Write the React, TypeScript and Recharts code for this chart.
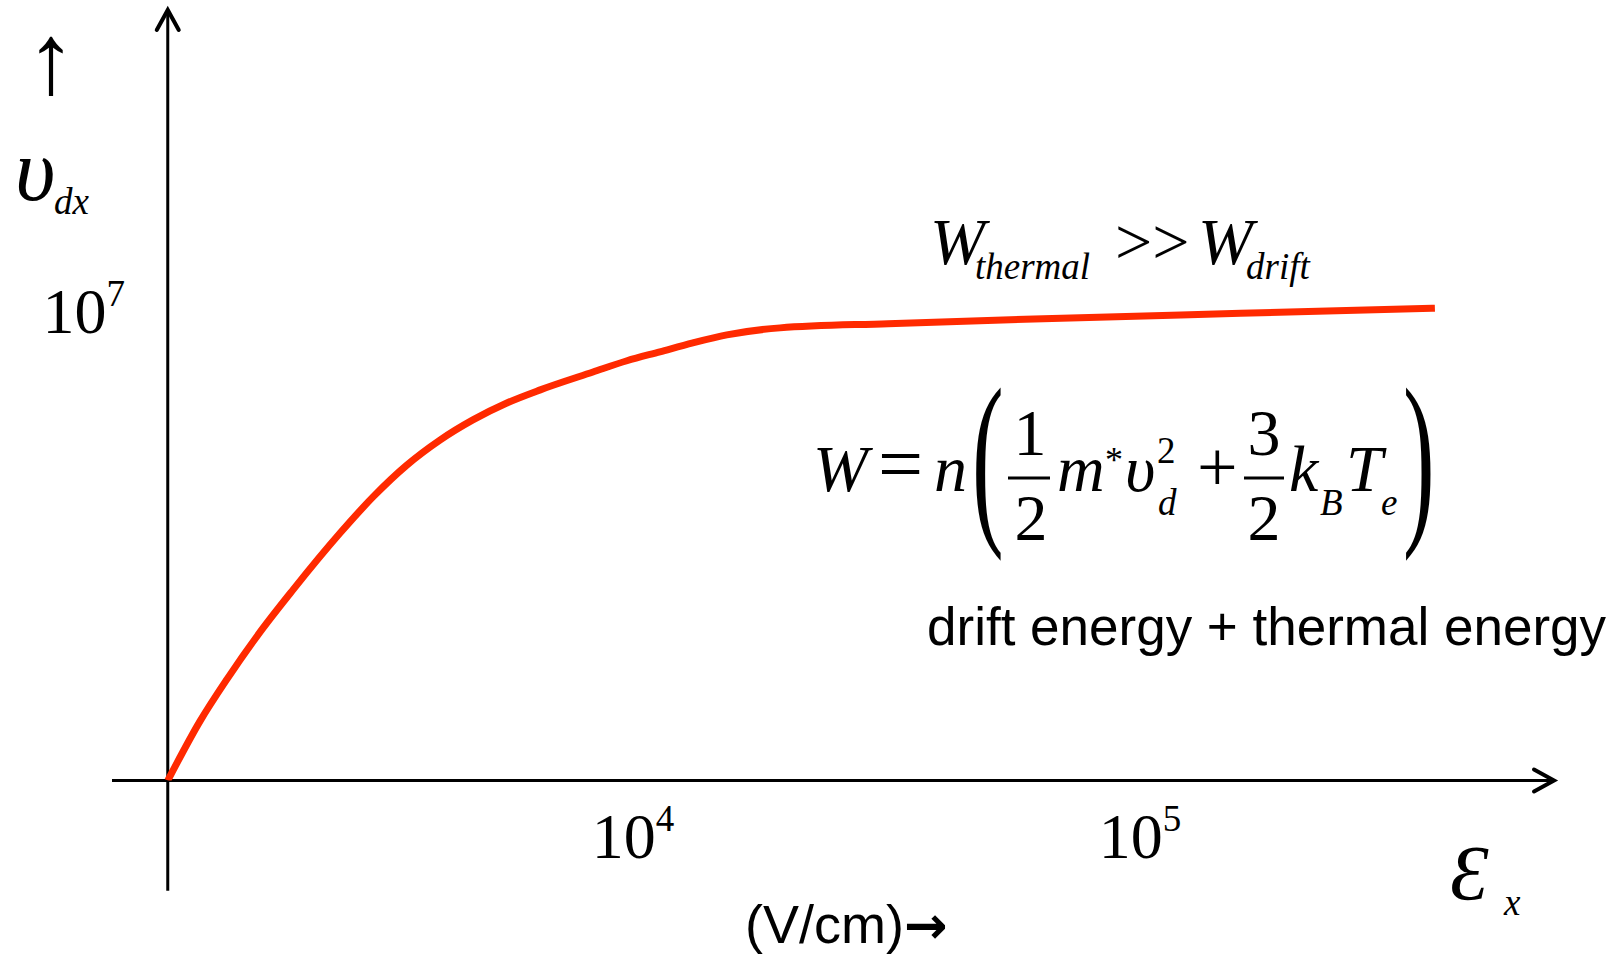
import { LineChart, Line, XAxis, YAxis, ReferenceLine } from "recharts";

// x = log10 of the field E (V/cm), v = drift velocity in units of 1e7 cm/s
const fieldLog = [3.082, 3.146, 3.199, 3.264, 3.329, 3.422, 3.487, 3.554, 3.619, 3.684, 3.751, 3.817, 3.921, 3.988, 4.053, 4.118, 4.185, 4.29, 4.503, 4.791, 5.199, 5.582];
const velocity = [0, 0.127, 0.216, 0.316, 0.406, 0.527, 0.604, 0.672, 0.725, 0.768, 0.804, 0.832, 0.87, 0.894, 0.913, 0.932, 0.949, 0.964, 0.973, 0.983, 0.995, 1.006];

const xTicks = [4, 5];
const yTicks = [1];
const xDomain: [number, number] = [2.972, 5.817];
const yDomain: [number, number] = [0, 1.641];
const originX = 3.082;
const yAxisBottom = -0.235;

const SERIF = "'Liberation Serif', 'Times New Roman', serif";
const SANS = "'Liberation Sans', Arial, sans-serif";
const RED = "#FF2A00";

const data = fieldLog.map((x, i) => ({ x, v: velocity[i] }));

// axis line with an open chevron at its second end
const ArrowAxis = (props: any) => {
  const { x1, y1, x2, y2 } = props;
  const dx = x2 - x1, dy = y2 - y1;
  const len = Math.hypot(dx, dy) || 1;
  const ux = dx / len, uy = dy / len;
  const back = 20, half = 11;
  const bx = x2 - ux * back, by = y2 - uy * back;
  const px = -uy * half, py = ux * half;
  return (
    <g>
      <line x1={x1} y1={y1} x2={x2 - ux * 2} y2={y2 - uy * 2} stroke="#000" strokeWidth={3} />
      <polyline
        points={`${bx + px},${by + py} ${x2},${y2} ${bx - px},${by - py}`}
        fill="none" stroke="#000" strokeWidth={4} strokeLinecap="round"
      />
    </g>
  );
};

const PowerTick = ({ x, y, exp, anchor, dx, dy }: any) => (
  <text x={x + dx} y={y + dy} textAnchor={anchor} fontFamily={SERIF} fontSize={64} fill="#000">
    10<tspan fontSize={37} dy={-27}>{exp}</tspan>
  </text>
);

const Annotations = () => (
  <g fontFamily={SERIF} fill="#000">
    <text x={51} y={93} fontSize={100} textAnchor="middle">↑</text>
    <text x={15} y={200} fontSize={88} fontStyle="italic">υ</text>
    <text x={54} y={214} fontSize={37} fontStyle="italic">dx</text>

    {/* W_thermal >> W_drift */}
    <text fontSize={66} fontStyle="italic">
      <tspan x={930} y={264}>W</tspan>
      <tspan x={975} y={279} fontSize={37}>thermal</tspan>
    </text>
    <text x={1115} y={264} fontSize={66}>&gt;&gt;</text>
    <text fontSize={66} fontStyle="italic">
      <tspan x={1198} y={264}>W</tspan>
      <tspan x={1246} y={279} fontSize={37}>drift</tspan>
    </text>

    {/* W = n ( 1/2 m* v_d^2 + 3/2 k_B T_e ) */}
    <text x={813} y={491} fontSize={66} fontStyle="italic">W</text>
    <text x={878} y={491} fontSize={80}>=</text>
    <text x={934} y={491} fontSize={66} fontStyle="italic">n</text>
    <text transform="translate(972,520) scale(0.5,1)" fontSize={190}>(</text>
    <text x={1030} y={455} fontSize={66} textAnchor="middle">1</text>
    <line x1={1008} x2={1050} y1={478} y2={478} stroke="#000" strokeWidth={3} />
    <text x={1031} y={540} fontSize={66} textAnchor="middle">2</text>
    <text x={1057} y={491} fontSize={66} fontStyle="italic">m</text>
    <text x={1105} y={472} fontSize={36}>*</text>
    <text fontSize={66} fontStyle="italic">
      <tspan x={1125} y={491}>υ</tspan>
      <tspan x={1157} y={463} fontSize={37} fontStyle="normal">2</tspan>
      <tspan x={1158} y={515} fontSize={37}>d</tspan>
    </text>
    <text x={1197} y={491} fontSize={72}>+</text>
    <text x={1264} y={455} fontSize={66} textAnchor="middle">3</text>
    <line x1={1244} x2={1284} y1={478} y2={478} stroke="#000" strokeWidth={3} />
    <text x={1264} y={540} fontSize={66} textAnchor="middle">2</text>
    <text fontSize={66} fontStyle="italic">
      <tspan x={1289} y={491}>k</tspan>
      <tspan x={1320} y={515} fontSize={37}>B</tspan>
      <tspan x={1346} y={491}>T</tspan>
      <tspan x={1381} y={515} fontSize={37}>e</tspan>
    </text>
    <text transform="translate(1403,520) scale(0.5,1)" fontSize={190}>)</text>

    <text x={927} y={645} fontSize={53} fontFamily={SANS}>drift energy + thermal energy</text>
    <text x={745} y={943} fontSize={54} fontFamily={SANS}>
      (V/cm)<tspan fontFamily="'DejaVu Sans', sans-serif" fontWeight="bold" fontSize={52}>→</tspan>
    </text>

    <text fontStyle="italic">
      <tspan x={1450} y={899} fontSize={78}>Ɛ</tspan>
      <tspan x={1504} y={915} fontSize={37}>x</tspan>
    </text>
  </g>
);

export default function App() {
  return (
    <div style={{ position: "absolute", left: 0, top: 0, width: 1621, height: 957, background: "#fff" }}>
      <LineChart width={1621} height={957} data={data} margin={{ top: 10, right: 67, bottom: 76.5, left: 52 }}>
        <XAxis
          dataKey="x" type="number" domain={xDomain} ticks={xTicks} interval={0}
          allowDataOverflow axisLine={false} tickLine={false} tickSize={0} tickMargin={0} height={100}
          tick={(p: any) => <PowerTick x={p.x} y={p.y} exp={p.payload.value} anchor="middle" dx={0} dy={77.5} />}
        />
        <YAxis
          type="number" domain={yDomain} ticks={yTicks} interval={0}
          allowDataOverflow axisLine={false} tickLine={false} tickSize={0} tickMargin={0} width={60}
          tick={(p: any) => <PowerTick x={p.x} y={p.y} exp={7 + Math.log10(p.payload.value)} anchor="end" dx={13} dy={22} />}
        />
        <ReferenceLine
          segment={[{ x: xDomain[0], y: 0 }, { x: xDomain[1], y: 0 }]}
          ifOverflow="visible" shape={ArrowAxis}
        />
        <ReferenceLine
          segment={[{ x: originX, y: yAxisBottom }, { x: originX, y: yDomain[1] }]}
          ifOverflow="visible" shape={ArrowAxis}
        />
        <Line
          type="monotone" dataKey="v" stroke={RED} strokeWidth={7}
          dot={false} activeDot={false} isAnimationActive={false}
        />
        <Annotations />
      </LineChart>
    </div>
  );
}
